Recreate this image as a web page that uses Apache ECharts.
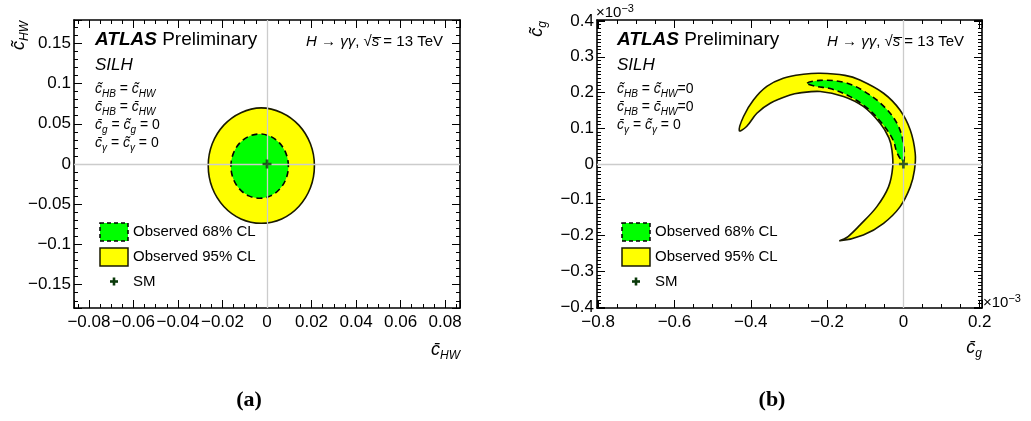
<!DOCTYPE html>
<html>
<head>
<meta charset="utf-8">
<script src="https://cdn.jsdelivr.net/npm/echarts/dist/echarts.min.js"></script>
<style>html,body{margin:0;background:#fff}#main{width:1031px;height:421px}</style>
</head>
<body>
<div id="main"></div>
<script>
// (a) cHW plane: contour points
var contour95A = [
  [0.0213, -0.0022], [0.0195, 0.0251], [0.0143, 0.0483], [0.0066, 0.0638],
  [-0.0026, 0.0698], [-0.0117, 0.0638], [-0.0194, 0.0483], [-0.0246, 0.0251],
  [-0.0264, -0.0022], [-0.0246, -0.0296], [-0.0194, -0.0528], [-0.0117, -0.0683],
  [-0.0026, -0.0737], [0.0066, -0.0683], [0.0143, -0.0528], [0.0195, -0.0296]
];
var contour68A = [
  [0.0096, -0.0027], [0.0086, 0.0126], [0.0058, 0.0256], [0.0016, 0.0343],
  [-0.0033, 0.0373], [-0.0082, 0.0343], [-0.0124, 0.0256], [-0.0152, 0.0126],
  [-0.0162, -0.0027], [-0.0152, -0.0180], [-0.0124, -0.0309], [-0.0082, -0.0396],
  [-0.0033, -0.0426], [0.0016, -0.0396], [0.0058, -0.0309], [0.0086, -0.0180]
];
// (b) cg plane, in units of 1e-3
var contour95B = [
  [-0.430, 0.093], [-0.419, 0.133], [-0.393, 0.179], [-0.358, 0.217], [-0.315, 0.240],
  [-0.262, 0.251], [-0.218, 0.254], [-0.153, 0.248], [-0.114, 0.235], [-0.052, 0.198],
  [-0.009, 0.151], [0.018, 0.095], [0.031, 0.030], [0.029, -0.017], [0.018, -0.064],
  [-0.009, -0.120], [-0.052, -0.166], [-0.105, -0.199], [-0.166, -0.215],
  [-0.145, -0.203], [-0.114, -0.171], [-0.070, -0.120], [-0.039, -0.064], [-0.028, -0.008],
  [-0.030, 0.039], [-0.038, 0.073], [-0.061, 0.114], [-0.105, 0.161], [-0.157, 0.189],
  [-0.218, 0.203], [-0.271, 0.199], [-0.297, 0.193], [-0.349, 0.170], [-0.384, 0.142],
  [-0.411, 0.105]
];
var contour68B = [
  [-0.252, 0.226], [-0.218, 0.234], [-0.157, 0.229], [-0.105, 0.205], [-0.050, 0.160],
  [-0.014, 0.108], [0.001, 0.050], [0.000, 0.006], [-0.016, 0.030], [-0.027, 0.067],
  [-0.054, 0.111], [-0.092, 0.154], [-0.142, 0.190], [-0.192, 0.211], [-0.228, 0.217]
];
var smPoint = [[0, 0]];
var legendNames = ['Observed 68% CL', 'Observed 95% CL', 'SM'];

var FONT = '"Liberation Sans", Arial, Helvetica, sans-serif';
var YELLOW = '#ffff00', GREEN = '#00ff00', SMCOL = '#0a3a0a', EDGE = '#1a1a00';

function fmt(v) {
  return v < 0 ? '\u2212' + (-v) : '' + v;
}

function mkAxis(gi, pos, min, max, split, minor, labels, margin) {
  return {
    type: 'value', gridIndex: gi, position: pos, min: min, max: max, splitNumber: split,
    axisLine: { onZero: false, lineStyle: { color: '#000', width: 1.6 } },
    axisTick: { inside: true, length: 8, lineStyle: { color: '#000', width: 1 } },
    minorTick: { show: true, splitNumber: minor, length: 4, lineStyle: { color: '#000', width: 1 } },
    splitLine: { show: false },
    axisLabel: {
      show: labels, showMinLabel: false, showMaxLabel: false, hideOverlap: false,
      margin: margin, fontFamily: FONT, fontSize: 17, color: '#000', formatter: fmt
    }
  };
}

function contour(name, xi, yi, pts, fill, dash, z, zeroLines) {
  var s = {
    type: 'custom', name: name, xAxisIndex: xi, yAxisIndex: yi, z: z, silent: true,
    data: pts, encode: { x: 0, y: 1 },
    renderItem: function (params, api) {
      if (params.dataIndex !== 0) return;
      return {
        type: 'polygon',
        shape: { points: pts.map(function (p) { return api.coord(p); }), smooth: 0.35 },
        style: { fill: fill, stroke: dash ? '#000' : EDGE, lineWidth: 1.6, lineDash: dash || null }
      };
    }
  };
  if (zeroLines) {
    s.markLine = {
      silent: true, symbol: 'none', label: { show: false }, animation: false,
      lineStyle: { color: '#cccccc', width: 1.3, type: 'solid' },
      data: [{ xAxis: 0 }, { yAxis: 0 }]
    };
  }
  return s;
}

function sm(xi, yi) {
  return {
    type: 'scatter', name: legendNames[2], xAxisIndex: xi, yAxisIndex: yi, z: 10, silent: true,
    data: smPoint, symbol: 'path://M3.5,0H6.5V3.5H10V6.5H6.5V10H3.5V6.5H0V3.5H3.5Z',
    symbolSize: 9, itemStyle: { color: SMCOL }
  };
}

var rich = {
  i: { fontFamily: FONT, fontStyle: 'italic', fontSize: 14, lineHeight: 20 },
  s: { fontFamily: FONT, fontStyle: 'italic', fontSize: 10, lineHeight: 10, verticalAlign: 'bottom' },
  n: { fontFamily: FONT, fontSize: 14, lineHeight: 20 }
};
var richBig = {
  i: { fontFamily: FONT, fontStyle: 'italic', fontSize: 18, lineHeight: 24 },
  s: { fontFamily: FONT, fontStyle: 'italic', fontSize: 12, lineHeight: 12, verticalAlign: 'bottom' }
};
var richTitle = {
  b: { fontFamily: FONT, fontStyle: 'italic', fontWeight: 'bold', fontSize: 19, lineHeight: 24 },
  p: { fontFamily: FONT, fontSize: 19, lineHeight: 24 }
};
var richEnergy = {
  i: { fontFamily: FONT, fontStyle: 'italic', fontSize: 15, lineHeight: 20 },
  n: { fontFamily: FONT, fontSize: 15, lineHeight: 20 }
};
var richExp = {
  n: { fontFamily: FONT, fontSize: 15, lineHeight: 20 },
  u: { fontFamily: FONT, fontSize: 11, lineHeight: 10, verticalAlign: 'top' }
};

function txt(x, y, text, r, align, extra) {
  var el = {
    type: 'text', x: x, y: y, silent: true,
    style: { text: text, rich: r, fill: '#000', align: align || 'left', verticalAlign: 'middle', font: '14px ' + FONT }
  };
  if (extra) for (var k in extra) el[k] = extra[k];
  return el;
}

function panelTexts(x0, xr, lines) {
  var out = [
    txt(x0, 40, '{b|ATLAS}{p| Preliminary}', richTitle),
    txt(x0, 65, '{i|SILH}', { i: { fontFamily: FONT, fontStyle: 'italic', fontSize: 17, lineHeight: 22 } }),
    txt(xr, 42, '{i|H}{n| \u2192 }{i|\u03b3\u03b3}{n|, \u221a}{i|s\u0305}{n| = 13 TeV}', richEnergy, 'right')
  ];
  lines.forEach(function (l, k) { out.push(txt(x0, 89 + 18 * k, l, rich)); });
  return out;
}

function legend(bx) {
  return [
    { type: 'rect', silent: true, shape: { x: bx, y: 223, width: 28, height: 18 },
      style: { fill: GREEN, stroke: '#000', lineWidth: 1.5, lineDash: [4, 3] } },
    { type: 'rect', silent: true, shape: { x: bx, y: 248, width: 28, height: 18 },
      style: { fill: YELLOW, stroke: EDGE, lineWidth: 1.5 } },
    { type: 'rect', silent: true, shape: { x: bx + 10, y: 280.2, width: 8, height: 2.6 }, style: { fill: SMCOL } },
    { type: 'rect', silent: true, shape: { x: bx + 12.7, y: 277.5, width: 2.6, height: 8 }, style: { fill: SMCOL } },
    txt(bx + 33, 232, legendNames[0], { n: { fontFamily: FONT, fontSize: 15 } }),
    txt(bx + 33, 257, legendNames[1], { n: { fontFamily: FONT, fontSize: 15 } }),
    txt(bx + 33, 282, legendNames[2], { n: { fontFamily: FONT, fontSize: 15 } })
  ].map(function (e) {
    if (e.type === 'text') e.style.text = '{n|' + e.style.text + '}';
    return e;
  });
}

var graphics = []
  .concat(panelTexts(95, 443, [
    '{i|c\u0303}{s|HB}{n| = }{i|c\u0303}{s|HW}',
    '{i|c\u0304}{s|HB}{n| = }{i|c\u0304}{s|HW}',
    '{i|c\u0304}{s|g}{n| = }{i|c\u0303}{s|g}{n| = 0}',
    '{i|c\u0304}{s|\u03b3}{n| = }{i|c\u0303}{s|\u03b3}{n| = 0}'
  ]))
  .concat(panelTexts(617, 964, [
    '{i|c\u0303}{s|HB}{n| = }{i|c\u0303}{s|HW}{n|=0}',
    '{i|c\u0304}{s|HB}{n| = }{i|c\u0304}{s|HW}{n|=0}',
    '{i|c\u0304}{s|\u03b3}{n| = }{i|c\u0303}{s|\u03b3}{n| = 0}'
  ]))
  .concat(legend(100))
  .concat(legend(622))
  .concat([
    txt(460, 350, '{i|c\u0304}{s|HW}', richBig, 'right'),
    txt(982, 348, '{i|c\u0304}{s|g}', richBig, 'right'),
    txt(19, 21, '{i|c\u0303}{s|HW}', richBig, 'right', { rotation: Math.PI / 2 }),
    txt(537, 21, '{i|c\u0303}{s|g}', richBig, 'right', { rotation: Math.PI / 2 }),
    txt(596, 13, '{n|\u00d710}{u|\u22123}', richExp),
    txt(983, 303, '{n|\u00d710}{u|\u22123}', richExp),
    { type: 'text', x: 249, y: 400, silent: true,
      style: { text: '(a)', fill: '#000', align: 'center', verticalAlign: 'middle', font: 'bold 22px "Liberation Serif", "Times New Roman", serif' } },
    { type: 'text', x: 772, y: 400, silent: true,
      style: { text: '(b)', fill: '#000', align: 'center', verticalAlign: 'middle', font: 'bold 22px "Liberation Serif", "Times New Roman", serif' } }
  ]);

var myChart = echarts.init(document.getElementById('main'));
myChart.setOption({
  animation: false,
  backgroundColor: '#fff',
  grid: [
    { left: 74, top: 20, width: 386, height: 288, outerBoundsMode: 'none' },
    { left: 597, top: 20, width: 385, height: 288, outerBoundsMode: 'none' }
  ],
  xAxis: [
    mkAxis(0, 'bottom', -0.0867, 0.0867, 8, 4, true, 6),
    mkAxis(0, 'top', -0.0867, 0.0867, 8, 4, false, 6),
    mkAxis(1, 'bottom', -0.803, 0.206, 5, 4, true, 6),
    mkAxis(1, 'top', -0.803, 0.206, 5, 4, false, 6)
  ],
  yAxis: [
    mkAxis(0, 'left', -0.179, 0.179, 7, 5, true, 3),
    mkAxis(0, 'right', -0.179, 0.179, 7, 5, false, 3),
    mkAxis(1, 'left', -0.403, 0.403, 8, 10, true, 3),
    mkAxis(1, 'right', -0.403, 0.403, 8, 10, false, 3)
  ],
  series: [
    contour(legendNames[1], 0, 0, contour95A, YELLOW, null, 2, true),
    contour(legendNames[0], 0, 0, contour68A, GREEN, [6, 4], 3, false),
    sm(0, 0),
    contour(legendNames[1], 2, 2, contour95B, YELLOW, null, 2, true),
    contour(legendNames[0], 2, 2, contour68B, GREEN, [6, 4], 3, false),
    sm(2, 2)
  ],
  graphic: graphics
});
</script>
</body>
</html>
